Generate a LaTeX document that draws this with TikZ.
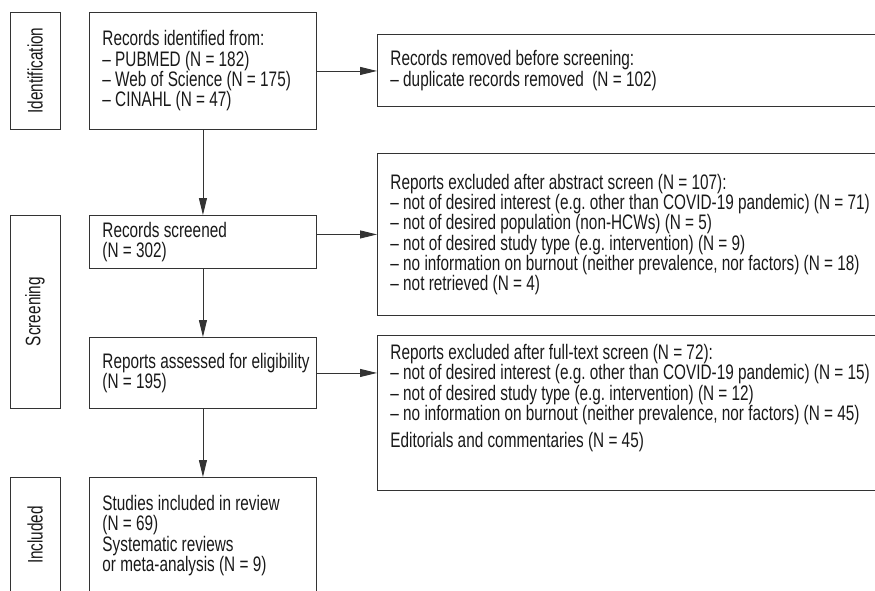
\documentclass[tikz,border=0pt]{standalone}
\usepackage{fontspec}
\setmainfont{Liberation Sans}[FakeStretch=0.73]
\usetikzlibrary{arrows.meta}

\tikzset{
  flowbox/.style={draw=black!80, line width=0.9pt, anchor=north west, align=flush left,
    inner xsep=13pt, text=black!90, font=\fontsize{21}{20.3}\selectfont\frenchspacing},
  stagebox/.style={draw=black!80, line width=0.9pt, rotate=90, minimum height=50pt,
    text=black!90, font=\fontsize{21}{20.3}\selectfont},
  flowarrow/.style={draw=black!80, line width=0.9pt, -{Triangle[length=17pt,width=8pt]}}
}

\begin{document}
\begin{tikzpicture}[x=1pt, y=-1pt]
            \useasboundingbox (0,0) rectangle (875,590);
            \clip (0,0) rectangle (875,590);

            % Stages
            \node[stagebox, minimum width=117pt] (ident) at (35,70.5) {Identification};
            \node[stagebox, minimum width=193pt] (screen) at (35,311.5) {Screening};
            \node[stagebox, minimum width=116pt] (incl) at (35,535) {Included};

            % Main column
            \node[flowbox, minimum width=227pt, minimum height=117pt, text width=201pt] (identified) at (89,12)
                {Records identified from:\\ – PUBMED (N = 182)\\ – Web of Science (N = 175)\\ – CINAHL (N = 47)};
            \node[flowbox, minimum width=227pt, minimum height=53pt, text width=201pt] (screened) at (89,215)
                {Records screened\\ (N = 302)};
            \node[flowbox, minimum width=227pt, minimum height=71pt, text width=201pt] (assessed) at (89,337)
                {\mbox{Reports assessed for eligibility}\\ (N = 195)};
            \node[flowbox, minimum width=227pt, minimum height=116pt, text width=201pt] (included) at (89,477)
                {Studies included in review\\ (N = 69)\\ Systematic reviews\\ or meta-analysis (N = 9)};

            % Exclusions
            \node[flowbox, minimum width=503pt, minimum height=72pt, text width=520pt] (removed) at (377,34)
                {Records removed before screening:\\ – duplicate records removed~ (N = 102)};
            \node[flowbox, minimum width=503pt, minimum height=162pt, text width=520pt] (abstract) at (377,153)
                {Reports excluded after abstract screen (N = 107):\\
                 – not of desired interest (e.g. other than COVID-19 pandemic) (N = 71)\\
                 – not of desired population (non-HCWs) (N = 5)\\
                 – not of desired study type (e.g. intervention) (N = 9)\\
                 – no information on burnout (neither prevalence, nor factors) (N = 18)\\
                 – not retrieved (N = 4)};
            \node[flowbox, minimum width=503pt, minimum height=155pt, text width=520pt] (fulltext) at (377,335)
                {Reports excluded after full-text screen (N = 72):\\
                 – not of desired interest (e.g. other than COVID-19 pandemic) (N = 15)\\
                 – not of desired study type (e.g. intervention) (N = 12)\\
                 – no information on burnout (neither prevalence, nor factors) (N = 45)\\[7pt]
                 Editorials and commentaries (N = 45)\\[13.5pt]\mbox{}};

            % Arrows
            \draw[flowarrow] (identified) -- (screened);
            \draw[flowarrow] (screened) -- (assessed);
            \draw[flowarrow] (assessed) -- (included);
            \draw[flowarrow] (identified.east) -- (removed.west |- identified.east);
            \draw[flowarrow] (screened.east |- abstract.west) -- (abstract.west);
            \draw[flowarrow] (assessed.east) -- (fulltext.west |- assessed.east);
\end{tikzpicture}
\end{document}
